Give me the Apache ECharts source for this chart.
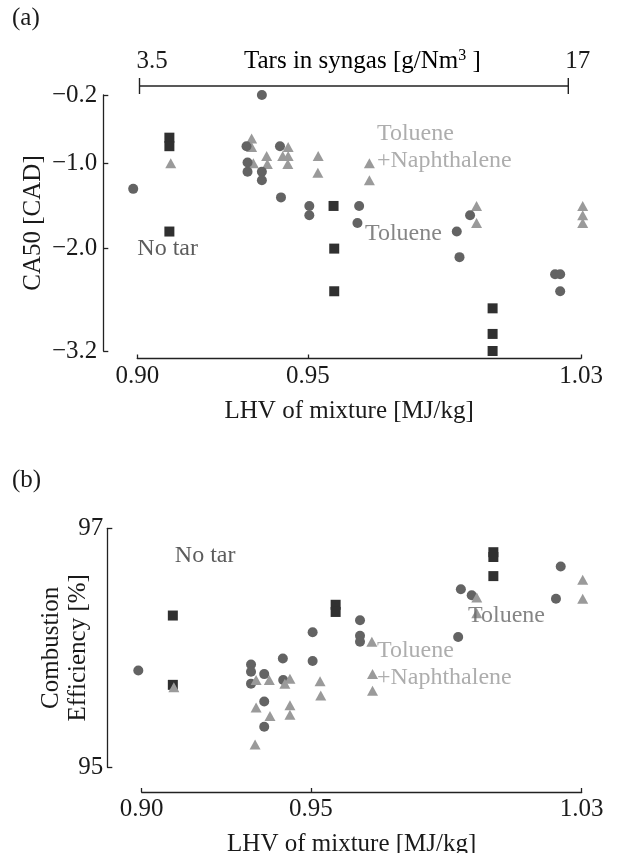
<!DOCTYPE html>
<html>
<head>
<meta charset="utf-8">
<script src="https://cdn.jsdelivr.net/npm/echarts@6/dist/echarts.min.js"></script>
<style>
html,body{margin:0;padding:0;background:#fff;}
#chart{width:617px;height:853px;}
</style>
</head>
<body>
<div id="chart"></div>
<script>
// ---- tick values ----
const xTicks = [0.90, 0.95, 1.03];
const yTicksA = [-0.2, -1.0, -2.0, -3.2];
const yTicksB = [95, 97];
const tarTicks = [3.5, 17];

// ---- panel (a): CA50 [CAD] vs LHV ----
const noTarA = [[0.9094,-0.70],[0.9094,-0.80],[0.9094,-1.80],[0.9575,-1.50],[0.9577,-2.00],[0.9577,-2.50],[1.0041,-2.70],[1.0041,-3.00],[1.0041,-3.20]];
const tolueneA = [[0.8988,-1.30],[0.9365,-0.20],[0.9320,-0.80],[0.9323,-0.99],[0.9323,-1.10],[0.9365,-1.10],[0.9365,-1.20],[0.9418,-0.80],[0.9421,-1.40],[0.9504,-1.50],[0.9504,-1.61],[0.9650,-1.50],[0.9645,-1.70],[0.9975,-1.61],[0.9936,-1.80],[0.9944,-2.10],[1.0224,-2.30],[1.0239,-2.30],[1.0239,-2.50]];
const tolNaphA = [[0.9098,-1.00],[0.9335,-0.71],[0.9335,-0.81],[0.9340,-1.00],[0.9379,-0.915],[0.9381,-1.01],[0.9442,-0.81],[0.9426,-0.915],[0.9442,-0.915],[0.9441,-1.01],[0.9530,-0.915],[0.9529,-1.11],[0.9680,-1.00],[0.9680,-1.20],[0.9994,-1.50],[0.9994,-1.70],[1.0305,-1.50],[1.0305,-1.61],[1.0305,-1.70]];

// ---- panel (b): Combustion efficiency [%] vs LHV ----
const noTarB = [[0.9092,96.27],[0.9092,95.69],[0.9573,96.36],[0.9573,96.30],[1.0039,96.80],[1.0039,96.76],[1.0039,96.60]];
const tolueneB = [[0.8990,95.81],[0.9323,95.86],[0.9323,95.80],[0.9323,95.70],[0.9362,95.78],[0.9417,95.91],[0.9418,95.73],[0.9362,95.55],[0.9362,95.34],[0.9505,96.13],[0.9505,95.89],[0.9645,96.23],[0.9645,96.10],[0.9645,96.05],[0.9935,96.09],[0.9943,96.49],[0.9975,96.44],[1.0238,96.68],[1.0224,96.41]];
const tolNaphB = [[0.9095,95.67],[0.9338,95.73],[0.9377,95.73],[0.9423,95.70],[0.9438,95.74],[0.9527,95.72],[0.9529,95.60],[0.9338,95.50],[0.9379,95.43],[0.9438,95.52],[0.9438,95.44],[0.9335,95.19],[0.9680,96.05],[0.9682,95.78],[0.9682,95.64],[0.9990,96.42],[0.9990,96.29],[1.0303,96.57],[1.0303,96.41]];

// ---- annotations (data coordinates, left/middle anchored) ----
const notesA = [
  {name:'No tar', value:[0.900,-2.00], color:'#333333'},
  {name:'Toluene', value:[0.9667,-1.82], color:'#666666'},
  {name:'Toluene\n+Naphthalene', value:[0.9702,-0.815], color:'#999999'}
];
const notesB = [
  {name:'No tar', value:[0.9098,96.77], color:'#333333'},
  {name:'Toluene', value:[0.9964,96.27], color:'#666666'},
  {name:'Toluene\n+Naphthalene', value:[0.9695,95.86], color:'#999999'}
];

const FONT = '"Liberation Serif","DejaVu Serif",serif';
const INK = '#1a1a1a';
const axisLineStyle = {color:'#222', width:1.3};
const lab = {fontFamily:FONT, fontSize:25, color:INK};

function xAxisFor(grid, offset, name) {
  return {
    gridIndex:grid, type:'value', min:0.90, max:1.03, offset:offset,
    axisLine:{show:true, lineStyle:axisLineStyle},
    axisTick:{show:true, inside:true, length:4, customValues:xTicks, lineStyle:axisLineStyle},
    axisLabel:Object.assign({customValues:xTicks, margin:5, formatter:v=>v.toFixed(2)}, lab),
    splitLine:{show:false},
    name:name, nameLocation:'middle', nameGap:40,
    nameTextStyle:Object.assign({padding:[0,20,0,0]}, lab)
  };
}
function yAxisFor(grid, min, max, ticks, fmt, offset, name, gap, margin) {
  return {
    gridIndex:grid, type:'value', min:min, max:max, offset:offset,
    axisLine:{show:true, lineStyle:axisLineStyle},
    axisTick:{show:true, inside:true, length:5, customValues:ticks, lineStyle:axisLineStyle},
    axisLabel:Object.assign({customValues:ticks, margin:margin, formatter:fmt}, lab),
    splitLine:{show:false},
    name:name, nameLocation:'middle', nameGap:gap, nameRotate:90, nameMoveOverlap:false,
    nameTextStyle:Object.assign({lineHeight:27}, lab)
  };
}
function pts(data, xi, yi, symbol, size, color) {
  return {type:'scatter', xAxisIndex:xi, yAxisIndex:yi, data:data, symbol:symbol,
    symbolSize:size, itemStyle:{color:color, opacity:1}, clip:false, silent:true, z:3};
}
function notes(data, xi, yi) {
  return {type:'scatter', xAxisIndex:xi, yAxisIndex:yi, symbolSize:0, clip:false, silent:true, z:5,
    data:data.map(d=>({name:d.name, value:d.value,
      label:{show:true, position:'inside', align:'left', verticalAlign:'middle',
        formatter:'{b}', fontFamily:FONT, fontSize:24, lineHeight:27, color:d.color}}))};
}

const chart = echarts.init(document.getElementById('chart'), null, {renderer:'canvas'});
chart.setOption({
  animation:false,
  backgroundColor:'#ffffff',
  grid:[
    {left:137.3, right:36, top:95, height:256, containLabel:false, outerBoundsMode:'none'},
    {left:139.5, width:428.8, top:78, height:16, containLabel:false, outerBoundsMode:'none'},
    {left:141.7, right:35.3, top:528.3, height:239, containLabel:false, outerBoundsMode:'none'}
  ],
  xAxis:[
    xAxisFor(0, 7.5, 'LHV of mixture [MJ/kg]'),
    {gridIndex:1, type:'value', min:3.5, max:17, position:'top',
      axisLine:{show:false}, axisTick:{show:false}, splitLine:{show:false},
      axisLabel:Object.assign({customValues:tarTicks, align:'left', margin:4, padding:[0,0,0,-3], formatter:v=>String(v)}, lab)},
    xAxisFor(2, 24.7, 'LHV of mixture [MJ/kg]')
  ],
  yAxis:[
    yAxisFor(0, -3.2, -0.2, yTicksA, v=>(v<0?'\u2212':'')+Math.abs(v).toFixed(1), 34, 'CA50 [CAD]', 56, 6),
    {gridIndex:1, type:'value', min:-1, max:1, show:false},
    yAxisFor(2, 95, 97, yTicksB, v=>String(v), 34.4, 'Combustion\nEfficiency [%]', 15, 4)
  ],
  graphic:[
    {type:'text', left:12, top:6, style:{text:'(a)', font:'25px '+FONT, fill:INK}},
    {type:'text', left:12, top:468, style:{text:'(b)', font:'25px '+FONT, fill:INK}},
    {type:'text', left:244, top:48, style:{
      text:'{a|Tars in syngas [g/Nm}{s|3}{a| ]}',
      rich:{a:{fontFamily:FONT, fontSize:25, color:INK, verticalAlign:'bottom'},
            s:{fontFamily:FONT, fontSize:16, color:INK, verticalAlign:'top', padding:[0,0,10,0]}}}}
  ],
  series:[
    {type:'line', xAxisIndex:1, yAxisIndex:1, data:tarTicks.map(v=>[v,0]),
      symbol:'rect', symbolSize:[1.4,16], showSymbol:true, silent:true,
      lineStyle:{color:'#222', width:1.3}, itemStyle:{color:'#222'}},
    pts(tolNaphA, 0, 0, 'triangle', [11,10], '#9a9a9a'),
    pts(tolueneA, 0, 0, 'circle', 10, '#636363'),
    pts(noTarA, 0, 0, 'rect', 10, '#303030'),
    pts(noTarB, 2, 2, 'rect', 10, '#303030'),
    pts(tolueneB, 2, 2, 'circle', 10, '#636363'),
    pts(tolNaphB, 2, 2, 'triangle', [11,10], '#9a9a9a'),
    notes(notesA, 0, 0),
    notes(notesB, 2, 2)
  ]
});
</script>
</body>
</html>
